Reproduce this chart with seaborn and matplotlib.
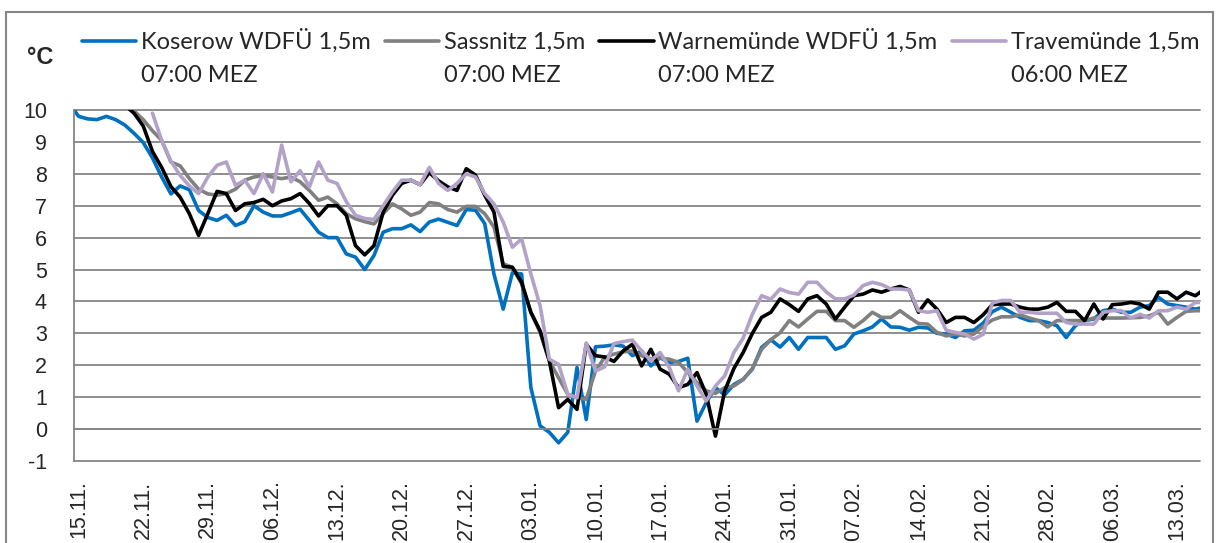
import numpy as np
import pandas as pd
import seaborn as sns
import matplotlib.pyplot as plt
from matplotlib.patches import Rectangle

nan = np.nan

stationen = ['Koserow WDFÜ 1,5m', 'Sassnitz 1,5m', 'Warnemünde WDFÜ 1,5m', 'Travemünde 1,5m']
uhrzeit = ['07:00 MEZ', '07:00 MEZ', '07:00 MEZ', '06:00 MEZ']
farben = ['#0070C0', '#808080', '#000000', '#B3A2C7']

# Tag 0 = 15.11., Messwerte von 14.11. bis 16.03.
tage = np.arange(-1, 123)
tick_tage = np.arange(0, 120, 7)
tick_labels = ['15.11.', '22.11.', '29.11.', '06.12.', '13.12.', '20.12.', '27.12.', '03.01.', '10.01.',
               '17.01.', '24.01.', '31.01.', '07.02.', '14.02.', '21.02.', '28.02.', '06.03.', '13.03.']

koserow = [10.2,
           9.8, 9.72, 9.7, 9.8, 9.7, 9.53, 9.27, 8.98, 8.5, 7.9,
           7.37, 7.62, 7.5, 6.85, 6.63, 6.54, 6.7, 6.38, 6.5, 7.0,
           6.8, 6.68, 6.68, 6.78, 6.89, 6.54, 6.17, 6.0, 6.0, 5.49,
           5.39, 5.0, 5.44, 6.17, 6.28, 6.28, 6.4, 6.19, 6.49, 6.58,
           6.48, 6.38, 6.88, 6.86, 6.44, 4.86, 3.76, 4.9, 4.86, 1.3,
           0.1, -0.1, -0.43, -0.1, 1.93, 0.3, 2.58, 2.6, 2.64, 2.6,
           2.3, 2.45, 1.98, 2.24, 2.09, 2.12, 2.22, 0.25, 0.83, 1.3,
           1.07, 1.4, 1.56, 1.88, 2.56, 2.8, 2.57, 2.87, 2.5, 2.87,
           2.87, 2.87, 2.5, 2.61, 2.98, 3.08, 3.2, 3.45, 3.2, 3.19,
           3.1, 3.19, 3.17, 3.0, 2.98, 2.87, 3.08, 3.1, 3.32, 3.68,
           3.82, 3.66, 3.5, 3.4, 3.4, 3.34, 3.24, 2.87, 3.24, 3.4,
           3.45, 3.71, 3.76, 3.66, 3.66, 3.82, 3.87, 4.13, 3.92, 3.87,
           3.82, 3.76, 3.82]

sassnitz = [11.0, 10.9, 10.8, 10.7, 10.6, 10.45, 10.3,
            9.97, 9.7, 9.35, 9.05,
            8.37, 8.25, 7.85, 7.52, 7.37, 7.33, 7.38, 7.52, 7.8, 7.9,
            7.95, 7.9, 7.85, 7.9, 7.75, 7.48, 7.17, 7.27, 7.06, 6.75,
            6.59, 6.5, 6.43, 6.75, 7.06, 6.9, 6.7, 6.8, 7.1, 7.06,
            6.88, 6.8, 6.98, 6.98, 6.75, 6.33, 5.18, 5.07, 4.55, 3.66,
            3.03, 2.14, 1.61, 1.09, 0.98, 0.93, 1.82, 2.25, 2.35, 2.42,
            2.45, 2.3, 2.2, 2.22, 2.19, 2.09, 1.78, 1.45, 1.2, 1.12,
            1.3, 1.35, 1.55, 1.9, 2.5, 2.8, 3.02, 3.4, 3.2, 3.45,
            3.69, 3.69, 3.4, 3.4, 3.19, 3.4, 3.66, 3.5, 3.5, 3.71,
            3.5, 3.31, 3.29, 3.03, 2.92, 2.98, 2.92, 2.98, 3.22, 3.42,
            3.52, 3.52, 3.58, 3.48, 3.4, 3.2, 3.4, 3.4, 3.4, 3.4,
            3.48, 3.48, 3.48, 3.48, 3.49, 3.5, 3.55, 3.66, 3.29, 3.5,
            3.69, 3.71, 3.71]

warnemuende = [10.9, 10.8, 10.7, 10.6, 10.5, 10.35, 10.15,
               9.9, 9.5, 8.7, 8.2,
               7.6, 7.27, 6.75, 6.07, 6.75, 7.45, 7.38, 6.85, 7.06, 7.1,
               7.2, 7.0, 7.15, 7.22, 7.38, 7.07, 6.68, 7.0, 7.0, 6.7,
               5.75, 5.46, 5.75, 6.8, 7.33, 7.7, 7.8, 7.66, 8.04, 7.78,
               7.59, 7.48, 8.16, 7.96, 7.33, 6.8, 5.1, 5.07, 4.6, 3.66,
               3.08, 2.14, 0.67, 0.93, 0.62, 2.66, 2.3, 2.26, 2.12, 2.45,
               2.66, 1.98, 2.5, 1.88, 1.72, 1.3, 1.4, 1.77, 1.09, -0.22,
               1.2, 1.9, 2.4, 3.0, 3.5, 3.66, 4.08, 3.9, 3.69, 4.08,
               4.18, 3.92, 3.45, 3.82, 4.18, 4.23, 4.36, 4.29, 4.39, 4.47,
               4.36, 3.66, 4.05, 3.76, 3.34, 3.5, 3.5, 3.34, 3.58, 3.9,
               3.92, 3.92, 3.82, 3.76, 3.76, 3.82, 3.97, 3.69, 3.69, 3.4,
               3.92, 3.45, 3.9, 3.92, 3.97, 3.92, 3.76, 4.29, 4.29, 4.08,
               4.29, 4.18, 4.39]

travemuende = [nan, nan, nan, nan, nan, nan, nan, nan, nan,
               9.9, 9.05,
               8.4, 7.95, 7.62, 7.38, 7.9, 8.27, 8.37, 7.64, 7.8, 7.38,
               8.0, 7.43, 8.9, 7.75, 8.1, 7.59, 8.37, 7.8, 7.7, 7.13,
               6.7, 6.6, 6.57, 7.0, 7.43, 7.8, 7.8, 7.66, 8.2, 7.7,
               7.48, 7.7, 8.0, 7.9, 7.38, 7.06, 6.49, 5.7, 5.96, 4.86,
               3.87, 2.19, 2.03, 1.09, 0.98, 2.7, 1.82, 1.95, 2.68, 2.74,
               2.79, 2.45, 2.14, 2.4, 1.93, 1.2, 1.88, 1.35, 0.88, 1.35,
               1.67, 2.4, 2.85, 3.6, 4.18, 4.07, 4.39, 4.28, 4.23, 4.6,
               4.6, 4.3, 4.08, 4.08, 4.2, 4.5, 4.6, 4.53, 4.39, 4.39,
               4.36, 3.71, 3.66, 3.71, 3.1, 3.03, 2.98, 2.82, 2.97, 3.95,
               4.03, 4.03, 3.66, 3.66, 3.63, 3.63, 3.63, 3.34, 3.29, 3.29,
               3.29, 3.66, 3.71, 3.71, 3.48, 3.6, 3.48, 3.71, 3.71, 3.82,
               3.76, 3.97, 3.97]

df = pd.DataFrame({'tag': tage, stationen[0]: koserow, stationen[1]: sassnitz,
                   stationen[2]: warnemuende, stationen[3]: travemuende})
df = df.melt(id_vars='tag', var_name='station', value_name='temp').dropna()

sns.set_style('white')
plt.rcParams['font.family'] = ['Liberation Sans', 'DejaVu Sans']
plt.rcParams['axes.unicode_minus'] = False

W, H = 1220, 543
grau = '#868686'
fig = plt.figure(figsize=(W / 100, H / 100), dpi=100)
ax = fig.add_axes([74 / W, 1 - 461 / H, 1126 / W, 351 / H])

sns.lineplot(data=df, x='tag', y='temp', hue='station', hue_order=stationen,
             palette=dict(zip(stationen, farben)), estimator=None, lw=2.6,
             solid_joinstyle='round', solid_capstyle='round', ax=ax)

ax.set_xlim(-0.5, 121.5)
ax.set_ylim(-1, 10)
ax.set_yticks(range(-1, 11))
ax.set_xlabel('')
ax.set_ylabel('')
ax.grid(axis='y', color=grau, lw=1.3)
ax.set_axisbelow(True)
for l in ax.get_ygridlines():
    l.set_clip_on(False)
ax.spines['top'].set_visible(False)
ax.spines['right'].set_visible(False)
ax.spines['left'].set_color(grau)
ax.spines['left'].set_linewidth(1.3)
# Rubrikenachse schneidet bei 0, Beschriftung unten
ax.spines['bottom'].set_position(('data', 0))
ax.spines['bottom'].set_color(grau)
ax.spines['bottom'].set_linewidth(1.3)
ax.set_xticks(tick_tage - 0.5)
ax.tick_params(axis='x', length=4.5, width=1.3, color=grau, labelbottom=False)
ax.tick_params(axis='y', length=6.5, width=1.3, color=grau, labelsize=15.5, pad=13)

sec = ax.secondary_xaxis(0)
sec.set_xticks(tick_tage, tick_labels, rotation=90)
sec.tick_params(length=0, labelsize=15.5, pad=14)
sec.spines['bottom'].set_visible(False)

sns.move_legend(ax, 'upper left', bbox_to_anchor=(82 / W, 1 - 29 / H), bbox_transform=fig.transFigure,
                ncol=4, frameon=False, title=None, prop={'family': 'Lato', 'size': 17},
                handlelength=2.3, handletextpad=0.2, columnspacing=0.6, borderpad=0, borderaxespad=0)
leg = ax.get_legend()
for l in leg.get_lines():
    l.set_linewidth(2.6)

# zweite Zeile der Legende (Messzeit) unter jeden Eintrag
fig.canvas.draw()
boxen = [t.get_window_extent() for t in leg.get_texts()]
oben = max(bb.y1 for bb in boxen)
for bb, z in zip(boxen, uhrzeit):
    fig.text(bb.x0 / W, (oben - 36) / H, z, va='top', ha='left', family='Lato', fontsize=17)

fig.text(27 / W, 1 - 57 / H, '°C', family='Liberation Sans', fontweight='bold', fontsize=17, va='center')
fig.add_artist(Rectangle((6 / W, -0.1), 1207 / W, (H - 12) / H + 0.1, transform=fig.transFigure,
                         fill=False, ec=grau, lw=1.5))

fig.savefig('out.png', dpi=100)
